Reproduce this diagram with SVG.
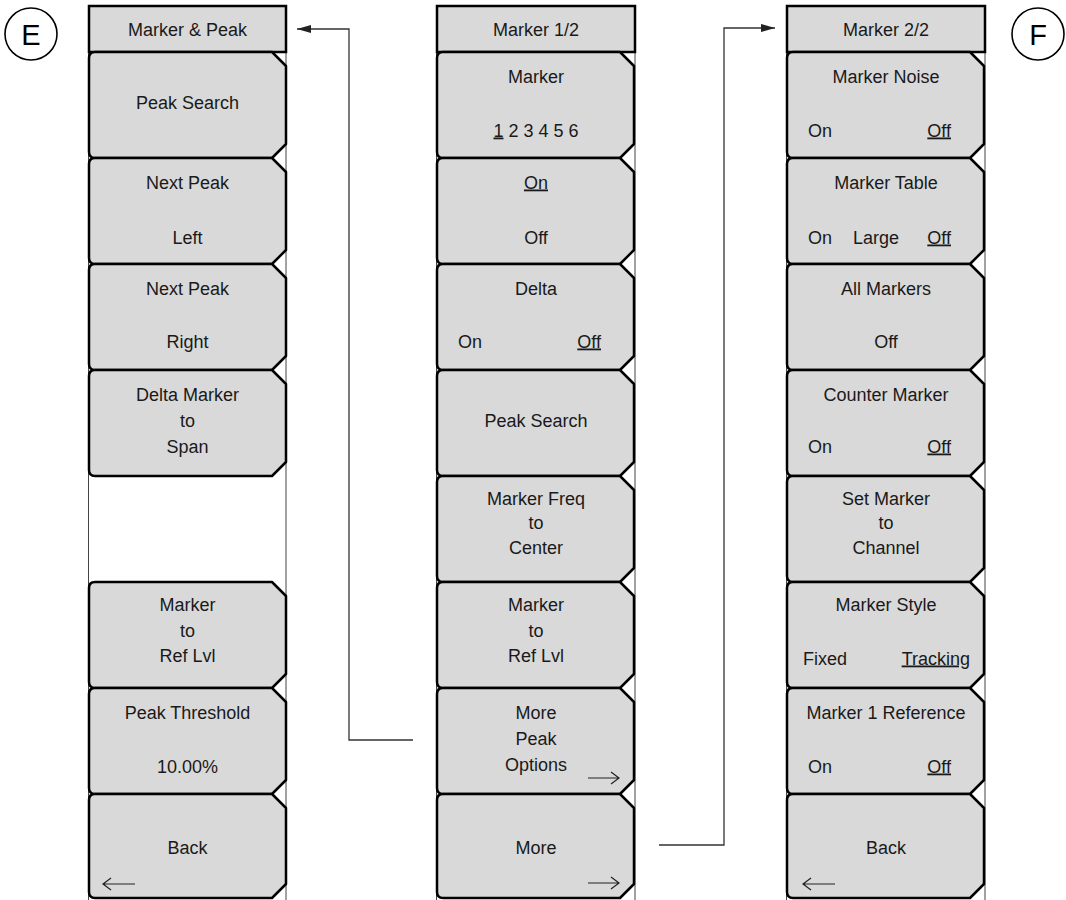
<svg xmlns="http://www.w3.org/2000/svg" xmlns:xlink="http://www.w3.org/1999/xlink" width="1066" height="900" viewBox="0 0 1066 900">
  <style>
    .frame { fill: none; stroke: #444; stroke-width: 1; }
    .hdr { fill: #d9d9d9; stroke: #000; stroke-width: 2.5; }
    .btn { fill: #d9d9d9; stroke: #000; stroke-width: 2.5; stroke-linejoin: round; }
    .t { font-family: "Liberation Sans", Arial, sans-serif; font-size: 18px; fill: #1a1a1a; text-anchor: middle; }
    .l { text-anchor: start; }
    .r { text-anchor: end; }
    .u { text-decoration: underline; }
    .soft { fill: none; stroke: #222; stroke-width: 1.2; }
    .conn { fill: none; stroke: #333; stroke-width: 1.3; }
    .badge { fill: #fff; stroke: #000; stroke-width: 1.6; }
    .badge-t { font-family: "Liberation Sans", Arial, sans-serif; font-size: 29px; fill: #000; text-anchor: middle; }
  </style>
  <defs>
    <!-- soft-key shape: rounded left corners, chamfered right corners -->
    <path id="key" d="M6,0 H183 L197,14 V92 L183,106 H6 Q0,106 0,100 V6 Q0,0 6,0 Z"/>
    <path id="keyLast" d="M6,0 H183 L197,14 V90 L183,104 H6 Q0,104 0,98 V6 Q0,0 6,0 Z"/>
    <marker id="arr" markerWidth="14" markerHeight="8" refX="14" refY="4" orient="auto" markerUnits="userSpaceOnUse">
      <path d="M0,0 L14,4 L0,8 Z" fill="#222"/>
    </marker>
  </defs>
  <rect width="1066" height="900" fill="#fff"/>

  <!-- section badges -->
  <g id="badge-E">
    <circle class="badge" cx="31" cy="34" r="26"/>
    <text class="badge-t" x="31" y="44.5">E</text>
  </g>
  <g id="badge-F">
    <circle class="badge" cx="1038" cy="34" r="26"/>
    <text class="badge-t" x="1038" y="44.5">F</text>
  </g>

  <!-- Marker & Peak menu -->
  <g id="menu-marker-peak">
    <rect class="frame" x="88.5" y="5.5" width="197.5" height="896"/>
    <rect class="hdr" x="89" y="6" width="197" height="46"/>
    <text class="t" x="187.5" y="35.5">Marker &amp; Peak</text>

    <g id="mp-peak-search" transform="translate(89,52)">
      <use href="#key" class="btn"/>
      <text class="t" x="98.5" y="56.5">Peak Search</text>
    </g>
    <g id="mp-next-left" transform="translate(89,158)">
      <use href="#key" class="btn"/>
      <text class="t" x="98.5" y="30.5">Next Peak</text>
      <text class="t" x="98.5" y="85.5">Left</text>
    </g>
    <g id="mp-next-right" transform="translate(89,264)">
      <use href="#key" class="btn"/>
      <text class="t" x="98.5" y="30.5">Next Peak</text>
      <text class="t" x="98.5" y="83.5">Right</text>
    </g>
    <g id="mp-delta-span" transform="translate(89,370)">
      <use href="#key" class="btn"/>
      <text class="t" x="98.5" y="30.5">Delta Marker</text>
      <text class="t" x="98.5" y="56.5">to</text>
      <text class="t" x="98.5" y="82.5">Span</text>
    </g>
    <g id="mp-ref-lvl" transform="translate(89,582)">
      <use href="#key" class="btn"/>
      <text class="t" x="98.5" y="28.5">Marker</text>
      <text class="t" x="98.5" y="54.5">to</text>
      <text class="t" x="98.5" y="79.5">Ref Lvl</text>
    </g>
    <g id="mp-threshold" transform="translate(89,688)">
      <use href="#key" class="btn"/>
      <text class="t" x="98.5" y="30.5">Peak Threshold</text>
      <text class="t" x="98.5" y="84.5">10.00%</text>
    </g>
    <g id="mp-back" transform="translate(89,794)">
      <use href="#keyLast" class="btn"/>
      <text class="t" x="98.5" y="59.5">Back</text>
      <path class="soft" d="M14,90 H46 M22,84 L14,90 L22,96"/>
    </g>
  </g>

  <!-- Marker 1/2 menu -->
  <g id="menu-marker-1">
    <rect class="frame" x="436.5" y="5.5" width="198.5" height="896"/>
    <rect class="hdr" x="437" y="6" width="198" height="46"/>
    <text class="t" x="536" y="35.5">Marker 1/2</text>

    <g id="m1-select" transform="translate(437,52)">
      <use href="#key" class="btn"/>
      <text class="t" x="99" y="30.5">Marker</text>
      <text class="t" x="99" y="84.5"><tspan class="u">1</tspan> 2 3 4 5 6</text>
    </g>
    <g id="m1-onoff" transform="translate(437,158)">
      <use href="#key" class="btn"/>
      <text class="t u" x="99" y="30.5">On</text>
      <text class="t" x="99" y="85.5">Off</text>
    </g>
    <g id="m1-delta" transform="translate(437,264)">
      <use href="#key" class="btn"/>
      <text class="t" x="99" y="30.5">Delta</text>
      <text class="t l" x="21" y="83.5">On</text>
      <text class="t r u" x="164" y="83.5">Off</text>
    </g>
    <g id="m1-peak-search" transform="translate(437,370)">
      <use href="#key" class="btn"/>
      <text class="t" x="99" y="56.5">Peak Search</text>
    </g>
    <g id="m1-freq-center" transform="translate(437,476)">
      <use href="#key" class="btn"/>
      <text class="t" x="99" y="28.5">Marker Freq</text>
      <text class="t" x="99" y="52.5">to</text>
      <text class="t" x="99" y="77.5">Center</text>
    </g>
    <g id="m1-ref-lvl" transform="translate(437,582)">
      <use href="#key" class="btn"/>
      <text class="t" x="99" y="28.5">Marker</text>
      <text class="t" x="99" y="54.5">to</text>
      <text class="t" x="99" y="79.5">Ref Lvl</text>
    </g>
    <g id="m1-more-peak" transform="translate(437,688)">
      <use href="#key" class="btn"/>
      <text class="t" x="99" y="30.5">More</text>
      <text class="t" x="99" y="56.5">Peak</text>
      <text class="t" x="99" y="82.5">Options</text>
      <path class="soft" d="M151,90 H182 M174,84 L182,90 L174,96"/>
    </g>
    <g id="m1-more" transform="translate(437,794)">
      <use href="#keyLast" class="btn"/>
      <text class="t" x="99" y="59.5">More</text>
      <path class="soft" d="M151,89 H182 M174,83 L182,89 L174,95"/>
    </g>
  </g>

  <!-- Marker 2/2 menu -->
  <g id="menu-marker-2">
    <rect class="frame" x="786.5" y="5.5" width="198.5" height="896"/>
    <rect class="hdr" x="787" y="6" width="198" height="46"/>
    <text class="t" x="886" y="35.5">Marker 2/2</text>

    <g id="m2-noise" transform="translate(787,52)">
      <use href="#key" class="btn"/>
      <text class="t" x="99" y="30.5">Marker Noise</text>
      <text class="t l" x="21" y="84.5">On</text>
      <text class="t r u" x="164" y="84.5">Off</text>
    </g>
    <g id="m2-table" transform="translate(787,158)">
      <use href="#key" class="btn"/>
      <text class="t" x="99" y="30.5">Marker Table</text>
      <text class="t l" x="21" y="85.5">On</text>
      <text class="t" x="89" y="85.5">Large</text>
      <text class="t r u" x="164" y="85.5">Off</text>
    </g>
    <g id="m2-all" transform="translate(787,264)">
      <use href="#key" class="btn"/>
      <text class="t" x="99" y="30.5">All Markers</text>
      <text class="t" x="99" y="83.5">Off</text>
    </g>
    <g id="m2-counter" transform="translate(787,370)">
      <use href="#key" class="btn"/>
      <text class="t" x="99" y="30.5">Counter Marker</text>
      <text class="t l" x="21" y="82.5">On</text>
      <text class="t r u" x="164" y="82.5">Off</text>
    </g>
    <g id="m2-channel" transform="translate(787,476)">
      <use href="#key" class="btn"/>
      <text class="t" x="99" y="28.5">Set Marker</text>
      <text class="t" x="99" y="52.5">to</text>
      <text class="t" x="99" y="77.5">Channel</text>
    </g>
    <g id="m2-style" transform="translate(787,582)">
      <use href="#key" class="btn"/>
      <text class="t" x="99" y="28.5">Marker Style</text>
      <text class="t l" x="16" y="82.5">Fixed</text>
      <text class="t r u" x="183" y="82.5">Tracking</text>
    </g>
    <g id="m2-reference" transform="translate(787,688)">
      <use href="#key" class="btn"/>
      <text class="t" x="99" y="30.5">Marker 1 Reference</text>
      <text class="t l" x="21" y="84.5">On</text>
      <text class="t r u" x="164" y="84.5">Off</text>
    </g>
    <g id="m2-back" transform="translate(787,794)">
      <use href="#keyLast" class="btn"/>
      <text class="t" x="99" y="59.5">Back</text>
      <path class="soft" d="M16,90 H48 M24,84 L16,90 L24,96"/>
    </g>
  </g>

  <!-- navigation connectors -->
  <g id="connectors">
    <path class="conn" d="M413,740 H349 V29 H297" marker-end="url(#arr)"/>
    <path class="conn" d="M659,845 H724 V28 H775" marker-end="url(#arr)"/>
  </g>
</svg>
